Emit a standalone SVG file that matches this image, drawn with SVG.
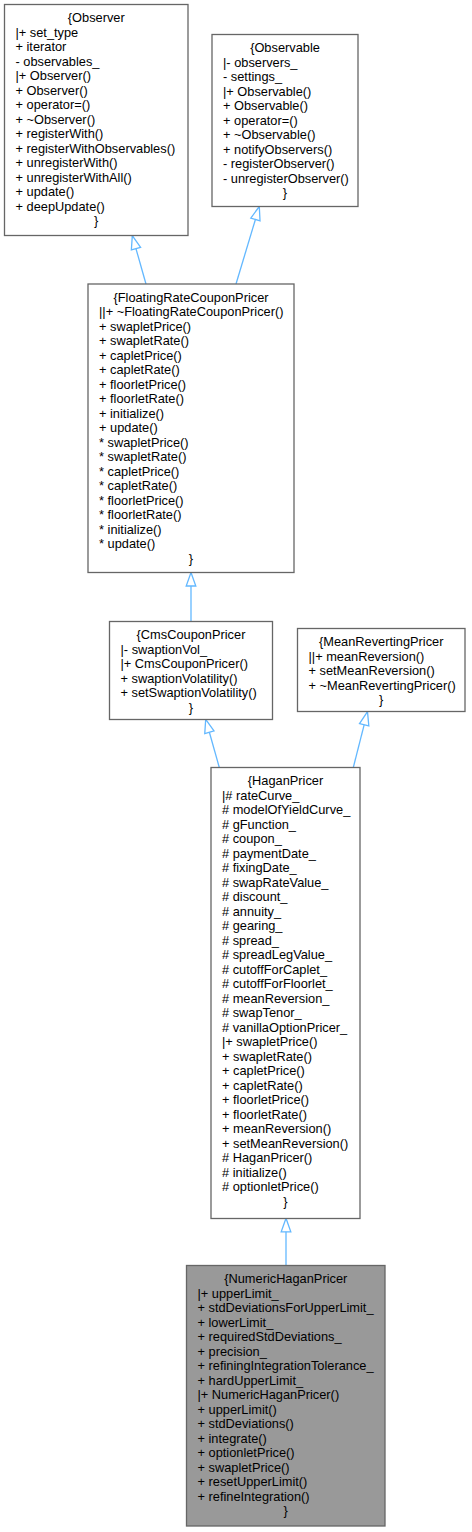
<svg xmlns="http://www.w3.org/2000/svg" width="472" height="1532" viewBox="0 0 472 1532">
<style>
.box{fill:#ffffff;stroke:#666666;stroke-width:1.3}
.cur{fill:#999999;stroke:#666666;stroke-width:1.3}
text{font-family:"Liberation Sans",Arial,sans-serif;font-size:12.8px;fill:#000000}
.c{text-anchor:middle}
.e{fill:none;stroke:#63b8ff;stroke-width:1.3}
</style>
<defs>
<marker id="ah" viewBox="-15 -7 17 14" markerWidth="17" markerHeight="14" refX="0" refY="0" orient="auto" markerUnits="userSpaceOnUse" overflow="visible">
<path d="M0,0 L-13.5,-4.8 L-13.5,4.8 Z" fill="#ffffff" stroke="#63b8ff" stroke-width="1.3"/>
</marker>
</defs>
<rect width="472" height="1532" fill="#ffffff"/>
<g id="edges">
<path class="e" d="M146,284 L132.3,235.7" marker-end="url(#ah)"/>
<path class="e" d="M236,284 L259.3,206.5" marker-end="url(#ah)"/>
<path class="e" d="M191,621.5 L191,572.5" marker-end="url(#ah)"/>
<path class="e" d="M219.3,767.5 L205.7,719.3" marker-end="url(#ah)"/>
<path class="e" d="M353.3,767.5 L367.5,711.7" marker-end="url(#ah)"/>
<path class="e" d="M286,1265.5 L286,1218.3" marker-end="url(#ah)"/>
</g>
<g id="Observer">
<rect class="box" x="4.5" y="4.5" width="183.5" height="231"/>
<text class="c" x="96.25" y="22">{Observer</text>
<text x="15.5" y="22"><tspan x="15.5" dy="14.5">|+ set_type</tspan><tspan x="15.5" dy="14.5">+ iterator</tspan><tspan x="15.5" dy="14.5">- observables_</tspan><tspan x="15.5" dy="14.5">|+ Observer()</tspan><tspan x="15.5" dy="14.5">+ Observer()</tspan><tspan x="15.5" dy="14.5">+ operator=()</tspan><tspan x="15.5" dy="14.5">+ ~Observer()</tspan><tspan x="15.5" dy="14.5">+ registerWith()</tspan><tspan x="15.5" dy="14.5">+ registerWithObservables()</tspan><tspan x="15.5" dy="14.5">+ unregisterWith()</tspan><tspan x="15.5" dy="14.5">+ unregisterWithAll()</tspan><tspan x="15.5" dy="14.5">+ update()</tspan><tspan x="15.5" dy="14.5">+ deepUpdate()</tspan></text>
<text class="c" x="96.25" y="225">}</text>
</g>
<g id="Observable">
<rect class="box" x="212" y="34.5" width="146" height="172"/>
<text class="c" x="285" y="52">{Observable</text>
<text x="223" y="52"><tspan x="223" dy="14.5">|- observers_</tspan><tspan x="223" dy="14.5">- settings_</tspan><tspan x="223" dy="14.5">|+ Observable()</tspan><tspan x="223" dy="14.5">+ Observable()</tspan><tspan x="223" dy="14.5">+ operator=()</tspan><tspan x="223" dy="14.5">+ ~Observable()</tspan><tspan x="223" dy="14.5">+ notifyObservers()</tspan><tspan x="223" dy="14.5">- registerObserver()</tspan><tspan x="223" dy="14.5">- unregisterObserver()</tspan></text>
<text class="c" x="285" y="197">}</text>
</g>
<g id="FloatingRateCouponPricer">
<rect class="box" x="88" y="284" width="206" height="288.5"/>
<text class="c" x="191" y="301.5">{FloatingRateCouponPricer</text>
<text x="99" y="301.5"><tspan x="99" dy="14.5">||+ ~FloatingRateCouponPricer()</tspan><tspan x="99" dy="14.5">+ swapletPrice()</tspan><tspan x="99" dy="14.5">+ swapletRate()</tspan><tspan x="99" dy="14.5">+ capletPrice()</tspan><tspan x="99" dy="14.5">+ capletRate()</tspan><tspan x="99" dy="14.5">+ floorletPrice()</tspan><tspan x="99" dy="14.5">+ floorletRate()</tspan><tspan x="99" dy="14.5">+ initialize()</tspan><tspan x="99" dy="14.5">+ update()</tspan><tspan x="99" dy="14.5">* swapletPrice()</tspan><tspan x="99" dy="14.5">* swapletRate()</tspan><tspan x="99" dy="14.5">* capletPrice()</tspan><tspan x="99" dy="14.5">* capletRate()</tspan><tspan x="99" dy="14.5">* floorletPrice()</tspan><tspan x="99" dy="14.5">* floorletRate()</tspan><tspan x="99" dy="14.5">* initialize()</tspan><tspan x="99" dy="14.5">* update()</tspan></text>
<text class="c" x="191" y="562.5">}</text>
</g>
<g id="CmsCouponPricer">
<rect class="box" x="109.5" y="621.5" width="163" height="98"/>
<text class="c" x="191" y="639">{CmsCouponPricer</text>
<text x="120.5" y="639"><tspan x="120.5" dy="14.5">|- swaptionVol_</tspan><tspan x="120.5" dy="14.5">|+ CmsCouponPricer()</tspan><tspan x="120.5" dy="14.5">+ swaptionVolatility()</tspan><tspan x="120.5" dy="14.5">+ setSwaptionVolatility()</tspan></text>
<text class="c" x="191" y="711.5">}</text>
</g>
<g id="MeanRevertingPricer">
<rect class="box" x="297.5" y="628.5" width="167.5" height="83"/>
<text class="c" x="381.25" y="646">{MeanRevertingPricer</text>
<text x="308.5" y="646"><tspan x="308.5" dy="14.5">||+ meanReversion()</tspan><tspan x="308.5" dy="14.5">+ setMeanReversion()</tspan><tspan x="308.5" dy="14.5">+ ~MeanRevertingPricer()</tspan></text>
<text class="c" x="381.25" y="704">}</text>
</g>
<g id="HaganPricer">
<rect class="box" x="211" y="767.5" width="149" height="451"/>
<text class="c" x="285.5" y="785">{HaganPricer</text>
<text x="222" y="785"><tspan x="222" dy="14.5">|# rateCurve_</tspan><tspan x="222" dy="14.5"># modelOfYieldCurve_</tspan><tspan x="222" dy="14.5"># gFunction_</tspan><tspan x="222" dy="14.5"># coupon_</tspan><tspan x="222" dy="14.5"># paymentDate_</tspan><tspan x="222" dy="14.5"># fixingDate_</tspan><tspan x="222" dy="14.5"># swapRateValue_</tspan><tspan x="222" dy="14.5"># discount_</tspan><tspan x="222" dy="14.5"># annuity_</tspan><tspan x="222" dy="14.5"># gearing_</tspan><tspan x="222" dy="14.5"># spread_</tspan><tspan x="222" dy="14.5"># spreadLegValue_</tspan><tspan x="222" dy="14.5"># cutoffForCaplet_</tspan><tspan x="222" dy="14.5"># cutoffForFloorlet_</tspan><tspan x="222" dy="14.5"># meanReversion_</tspan><tspan x="222" dy="14.5"># swapTenor_</tspan><tspan x="222" dy="14.5"># vanillaOptionPricer_</tspan><tspan x="222" dy="14.5">|+ swapletPrice()</tspan><tspan x="222" dy="14.5">+ swapletRate()</tspan><tspan x="222" dy="14.5">+ capletPrice()</tspan><tspan x="222" dy="14.5">+ capletRate()</tspan><tspan x="222" dy="14.5">+ floorletPrice()</tspan><tspan x="222" dy="14.5">+ floorletRate()</tspan><tspan x="222" dy="14.5">+ meanReversion()</tspan><tspan x="222" dy="14.5">+ setMeanReversion()</tspan><tspan x="222" dy="14.5"># HaganPricer()</tspan><tspan x="222" dy="14.5"># initialize()</tspan><tspan x="222" dy="14.5"># optionletPrice()</tspan></text>
<text class="c" x="285.5" y="1205.5">}</text>
</g>
<g id="NumericHaganPricer">
<rect class="cur" x="186.5" y="1265.5" width="198.5" height="260.5"/>
<text class="c" x="285.75" y="1283">{NumericHaganPricer</text>
<text x="197.5" y="1283"><tspan x="197.5" dy="14.5">|+ upperLimit_</tspan><tspan x="197.5" dy="14.5">+ stdDeviationsForUpperLimit_</tspan><tspan x="197.5" dy="14.5">+ lowerLimit_</tspan><tspan x="197.5" dy="14.5">+ requiredStdDeviations_</tspan><tspan x="197.5" dy="14.5">+ precision_</tspan><tspan x="197.5" dy="14.5">+ refiningIntegrationTolerance_</tspan><tspan x="197.5" dy="14.5">+ hardUpperLimit_</tspan><tspan x="197.5" dy="14.5">|+ NumericHaganPricer()</tspan><tspan x="197.5" dy="14.5">+ upperLimit()</tspan><tspan x="197.5" dy="14.5">+ stdDeviations()</tspan><tspan x="197.5" dy="14.5">+ integrate()</tspan><tspan x="197.5" dy="14.5">+ optionletPrice()</tspan><tspan x="197.5" dy="14.5">+ swapletPrice()</tspan><tspan x="197.5" dy="14.5">+ resetUpperLimit()</tspan><tspan x="197.5" dy="14.5">+ refineIntegration()</tspan></text>
<text class="c" x="285.75" y="1515">}</text>
</g>
</svg>
